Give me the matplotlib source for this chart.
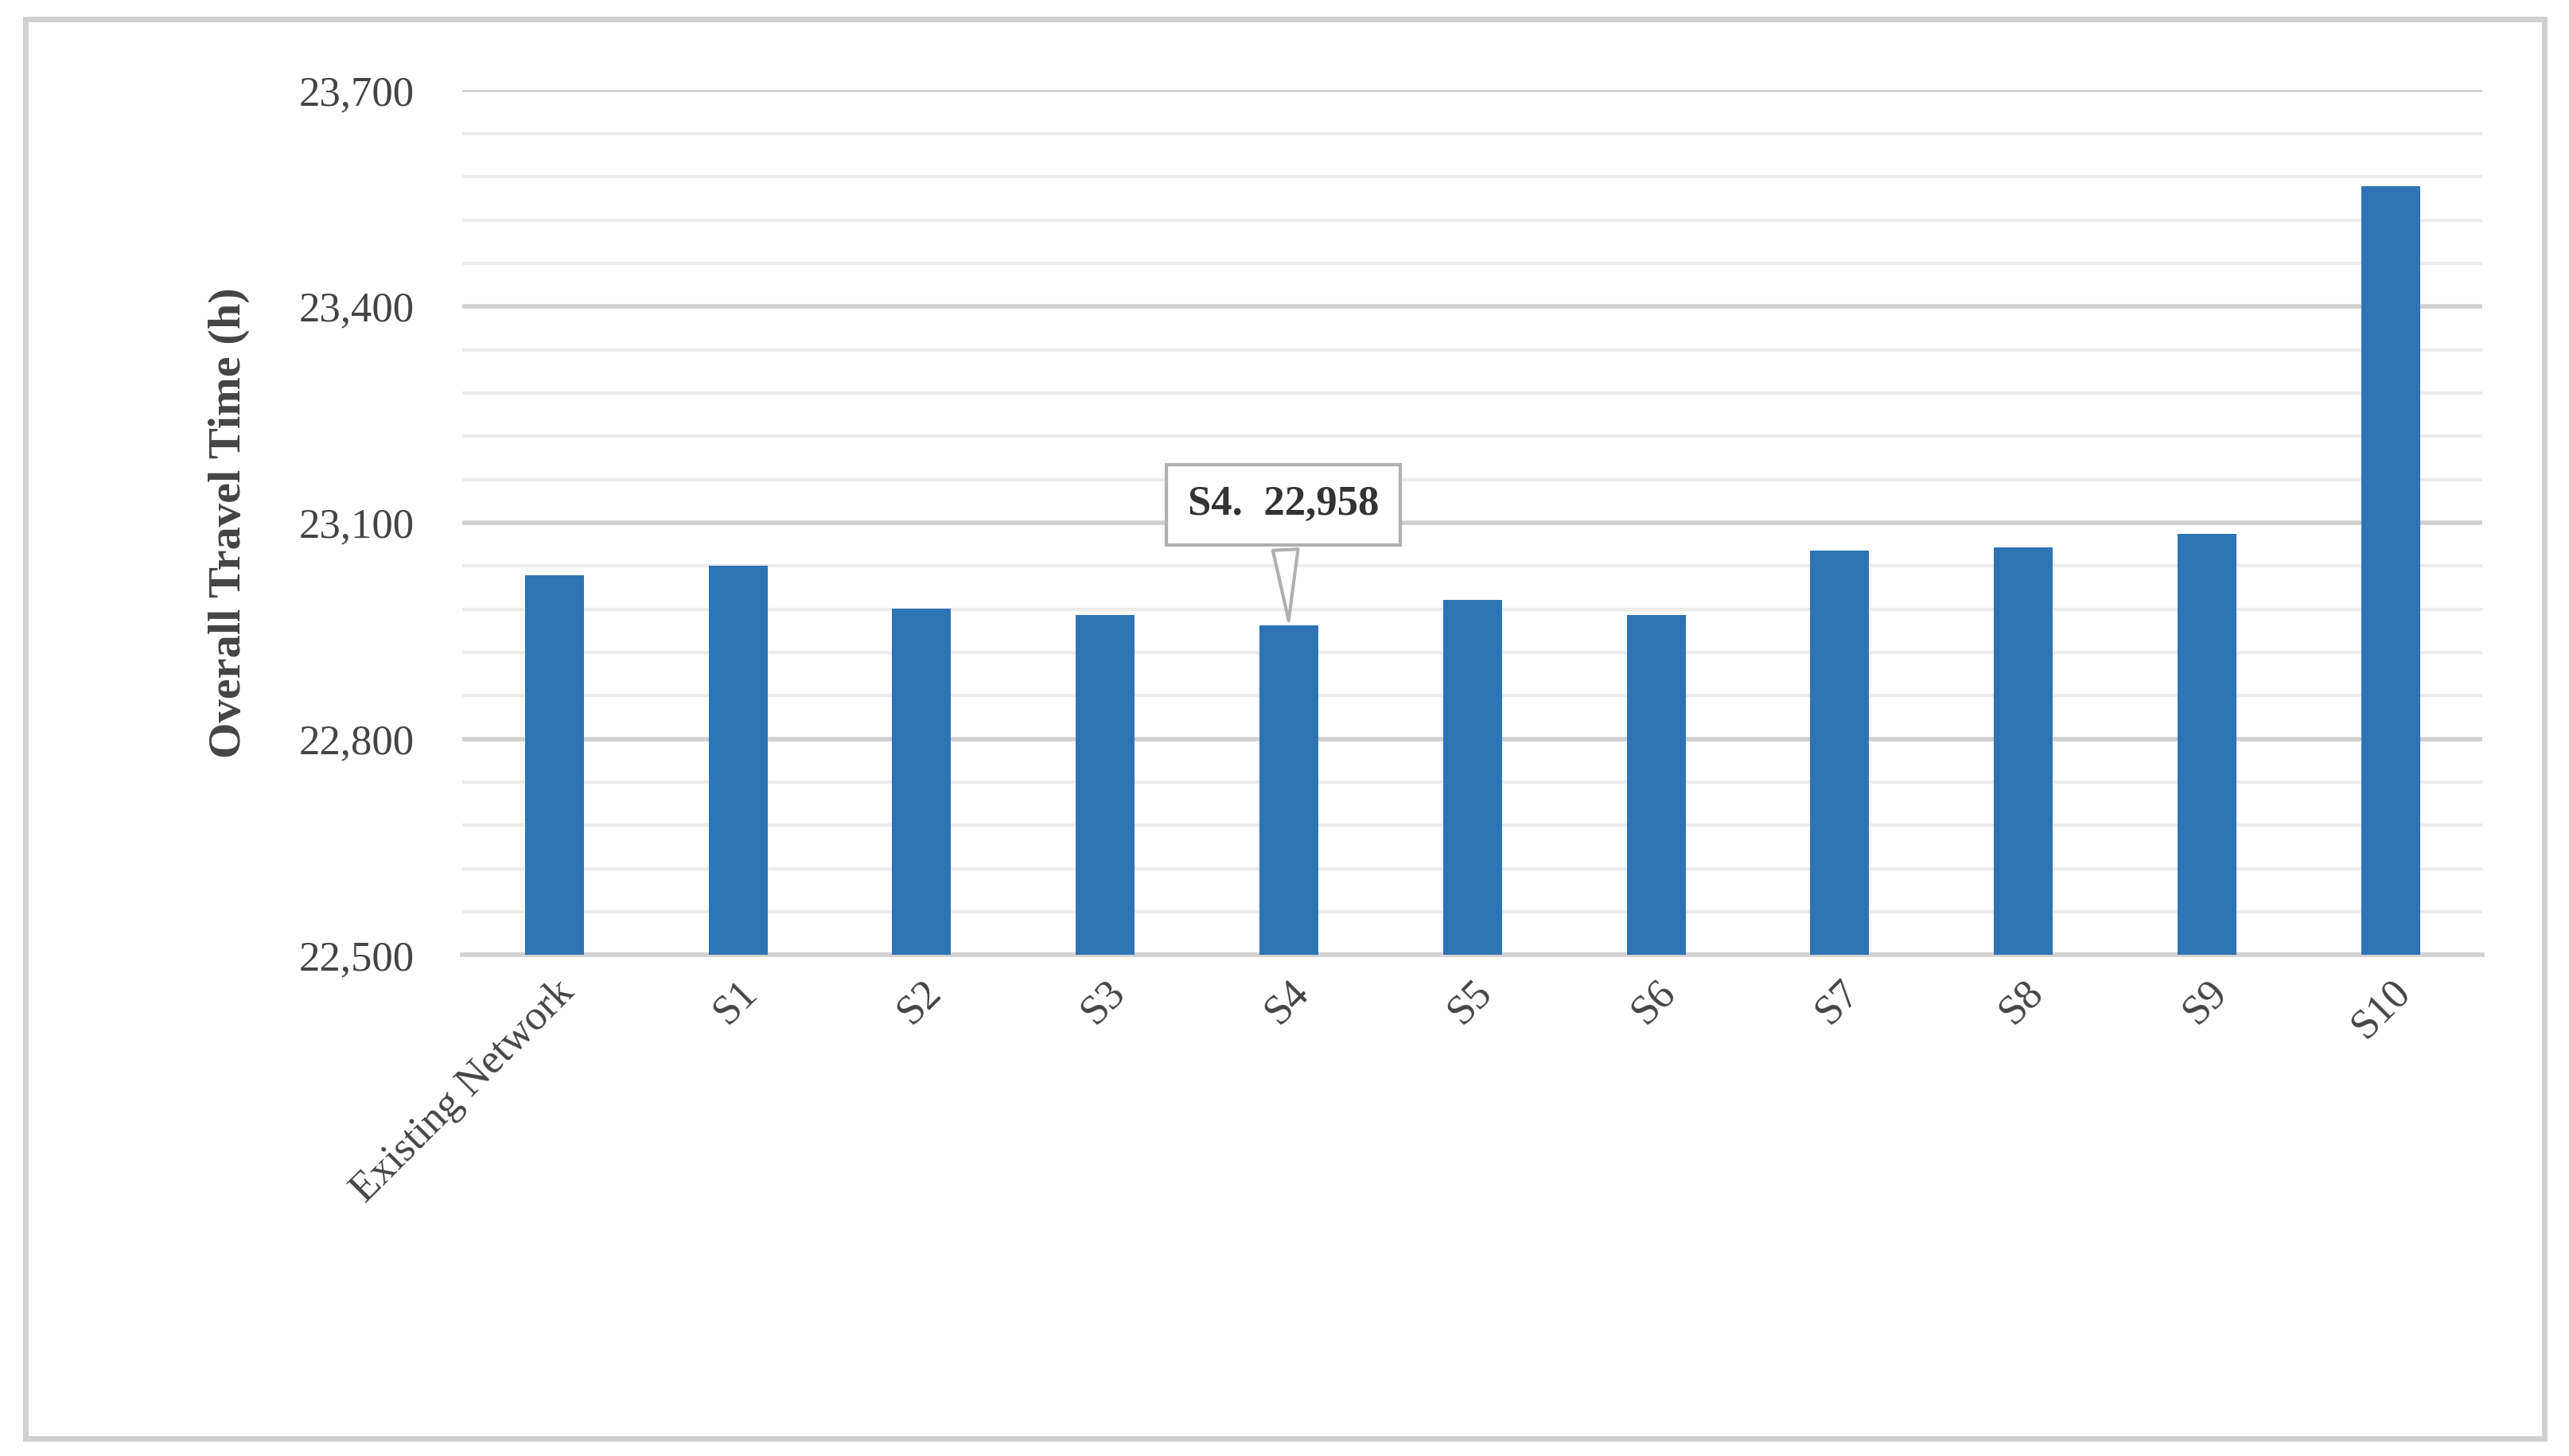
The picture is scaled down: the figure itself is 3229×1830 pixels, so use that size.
import matplotlib.pyplot as plt
from matplotlib.patches import Rectangle

categories = ["Existing Network", "S1", "S2", "S3", "S4", "S5", "S6", "S7", "S8", "S9", "S10"]
values = [23027, 23040, 22981, 22972, 22958, 22993, 22972, 23061, 23066, 23084, 23567]
yticks = [22500, 22800, 23100, 23400, 23700]

plt.rcParams['font.family'] = ['Liberation Serif', 'DejaVu Serif']

fig = plt.figure(figsize=(16.15, 9.15), dpi=200)
fig.patches.append(Rectangle((0.01, 0.012), 0.98, 0.975, transform=fig.transFigure,
                             fill=False, edgecolor='#d0d0d0', linewidth=2.5))
ax = fig.add_axes([0.18, 0.344, 0.786, 0.594])

x = range(len(categories))
ax.bar(x, values, width=0.32, color='#2e74b5', zorder=3)
ax.set_ylim(22500, 23700)
ax.set_xlim(-0.5, len(categories) - 0.5)
ax.set_yticks(yticks)
ax.set_yticklabels([f"{v:,}" for v in yticks], fontsize=19, color='#444444')
ax.set_yticks(range(22500, 23701, 60), minor=True)
ax.grid(axis='y', which='major', color='#d0d0d0', linewidth=2, zorder=0)
ax.grid(axis='y', which='minor', color='#ececec', linewidth=1.5, zorder=0)
ax.tick_params(axis='y', which='both', length=0, pad=22)
ax.tick_params(axis='x', length=0, pad=8)
ax.set_xticks(list(x))
ax.set_xticklabels(categories, rotation=45, ha='right', rotation_mode='anchor',
                   fontsize=19, color='#444444')
for s in ['top', 'right', 'left']:
    ax.spines[s].set_visible(False)
ax.spines['bottom'].set_color('#d0d0d0')
ax.spines['bottom'].set_linewidth(2)
ax.set_ylabel("Overall Travel Time (h)", fontsize=21, fontweight='bold', color='#444444', labelpad=22)

ax.annotate(f"S4.  {values[4]:,}", xy=(4, values[4]), xytext=(3.97, 23125),
            ha='center', va='center', fontsize=19, fontweight='bold', color='#333333',
            bbox=dict(boxstyle='square,pad=0.5', fc='white', ec='#b0b0b0', lw=1.5),
            arrowprops=dict(arrowstyle='wedge,tail_width=0.6', fc='white', ec='#b0b0b0', lw=1.5),
            zorder=5)

fig.savefig("out.png", dpi=200)
